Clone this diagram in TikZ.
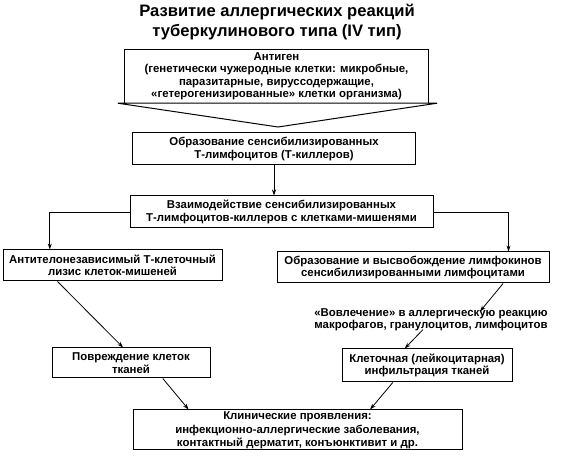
\documentclass[tikz,border=0pt]{standalone}
\usepackage{fontspec}
\setmainfont{Liberation Sans}
\usetikzlibrary{arrows.meta,calc}
\begin{document}
\begin{tikzpicture}[x=1pt,y=-1pt,
  box/.style={draw,line width=1pt,inner sep=0pt,align=center,font=\bfseries\fontsize{11.4}{12.5}\selectfont},
  plain/.style={inner sep=0pt,align=center,font=\bfseries\fontsize{11.4}{12.5}\selectfont},
  arr/.style={line width=0.8pt,-{Stealth[length=6pt,width=4pt]}},
  ttl/.style={inner sep=0pt,align=center,font=\bfseries\fontsize{16.6}{20}\selectfont}]
\useasboundingbox (0,0) rectangle (563,470);
% title
\node[ttl] (title) at (277,22) {Развитие аллергических реакций\\туберкулинового типа (IV тип)};
% antigen
\node[plain,minimum width=303pt,minimum height=53pt] (ant) at (276.5,76.5)
  {Антиген\\(генетически чужеродные клетки: микробные,\\паразитарные, вируссодержащие,\\«гетерогенизированные» клетки организма)};
\coordinate (tip) at (278,127);
\draw[line width=1pt] (ant.south west) -- (ant.north west) -- (ant.north east) -- (ant.south east);
\draw[line width=1pt,line join=miter] ([xshift=-7pt]ant.south west) -- ([xshift=9pt]ant.south east) -- (tip) -- cycle;
% boxes
\node[box,minimum width=283pt,minimum height=32pt] (b2) at (274,149)
  {Образование сенсибилизированных\\Т-лимфоцитов (Т-киллеров)};
\node[box,minimum width=303pt,minimum height=32pt] (b3) at (281.5,212)
  {Взаимодействие сенсибилизированных\\Т-лимфоцитов-киллеров с клетками-мишенями};
\node[box,minimum width=219pt,minimum height=31pt] (b4) at (112.5,265.5)
  {Антителонезависимый Т-клеточный\\лизис клеток-мишеней};
\node[box,minimum width=272pt,minimum height=31pt] (b5) at (413,267.5)
  {Образование и высвобождение лимфокинов\\сенсибилизированными лимфоцитами};
\node[plain] (vov) at (431,320)
  {«Вовлечение» в аллергическую реакцию\\макрофагов, гранулоцитов, лимфоцитов};
\node[box,minimum width=158pt,minimum height=30pt] (b8) at (131,363)
  {Повреждение клеток\\тканей};
\node[box,minimum width=170pt,minimum height=33pt] (b6) at (427,365.5)
  {Клеточная (лейкоцитарная)\\инфильтрация тканей};
\node[box,minimum width=329pt,minimum height=40pt] (b7) at (297.5,430)
  {Клинические проявления:\\[2pt]инфекционно-аллергические заболевания,\\контактный дерматит, конъюнктивит и др.};
% connectors
\draw[arr] (b2.south) -- (b2.south |- b3.north);
\draw[arr] (b3.west) -| ($(b4.north west)!0.215!(b4.north east)$);
\draw[arr] (b3.east) -| ($(b5.north west)!0.85!(b5.north east)$);
\draw[arr] ($(b4.south west)!0.25!(b4.south east)$) -- ($(b8.north west)!0.45!(b8.north east)$);
\draw[arr] ($(b5.south west)!0.83!(b5.south east)$) -- ([xshift=49pt,yshift=-3pt]vov.north);
\draw[arr] ([xshift=-8pt,yshift=2pt]vov.south) -- ($(b6.north west)!0.37!(b6.north east)$);
\draw[arr] ($(b8.south west)!0.7!(b8.south east)$) -- ($(b7.north west)!0.17!(b7.north east)$);
\draw[arr] ($(b6.south west)!0.3!(b6.south east)$) -- ($(b7.north west)!0.72!(b7.north east)$);
\end{tikzpicture}
\end{document}
